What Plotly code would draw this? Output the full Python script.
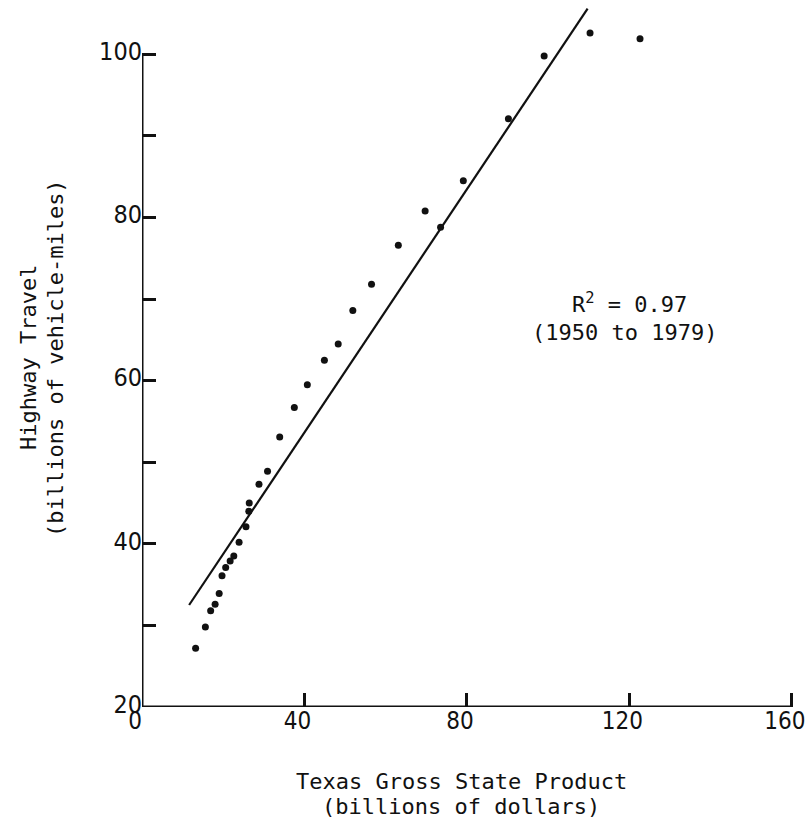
import plotly.graph_objects as go

# Texas Gross State Product (billions of dollars), 1950-1979
gsp = [13.2, 15.6, 16.9, 18.0, 19.0, 19.7, 20.6, 21.7, 22.6, 23.9,
       25.6, 26.3, 26.4, 28.8, 30.9, 33.9, 37.5, 40.7, 44.9, 48.3,
       51.9, 56.5, 63.1, 69.7, 73.5, 79.1, 90.2, 99.0, 110.3, 122.6]
# Highway travel (billions of vehicle-miles)
vmt = [27.2, 29.8, 31.8, 32.6, 33.9, 36.1, 37.1, 37.9, 38.5, 40.2,
       42.1, 44.0, 45.0, 47.3, 48.9, 53.1, 56.7, 59.5, 62.5, 64.5,
       68.6, 71.8, 76.6, 80.8, 78.8, 84.5, 92.1, 99.8, 102.6, 101.9]

# Regression line end points
fit_x = [11.6, 109.7]
fit_y = [32.5, 105.6]

x_tickvals = [0, 40, 80, 120, 160]
x_ticktext = ["0", "40", "80", "120", "160"]
y_tickvals = [20, 30, 40, 50, 60, 70, 80, 90, 100]
y_ticktext = ["20", " ", "40", " ", "60", " ", "80", " ", "100"]

x_title = ["Texas Gross State Product", "(billions of dollars)"]
y_title = ["Highway Travel", "(billions of vehicle-miles)"]
note = ["R<sup>2</sup> = 0.97", "(1950 to 1979)"]

W, H = 806, 826
ML, MT, MB = 142, 5, 119
PX_PER_X = 4.0625
PX_PER_Y = 8.159
X_RANGE = [0, 161]
MR = W - ML - round(X_RANGE[1] * PX_PER_X)
PW, PH = W - ML - MR, H - MT - MB
Y_RANGE = [20, 20 + PH / PX_PER_Y]

MONO = "DejaVu Sans Mono, Liberation Mono, monospace"
NUM = "Liberation Sans Narrow, DejaVu Sans Condensed, sans-serif"
INK = "#111111"

def px_x(p):
    return (p - ML) / PW

def px_y(p):
    return (H - MB - p) / PH

fig = go.Figure()
fig.add_trace(go.Scatter(x=fit_x, y=fit_y, mode="lines",
                         line=dict(color=INK, width=2.2),
                         showlegend=False, hoverinfo="skip"))
fig.add_trace(go.Scatter(x=gsp, y=vmt, mode="markers",
                         marker=dict(color=INK, size=7),
                         showlegend=False))

# axis lines (y axis stops at 100, x axis spans 0..160)
fig.add_shape(type="line", xref="x", yref="y", x0=0, x1=0, y0=Y_RANGE[0], y1=100,
              line=dict(color=INK, width=3))
fig.add_shape(type="line", xref="x", yref="y", x0=0, x1=160, y0=Y_RANGE[0], y1=Y_RANGE[0],
              line=dict(color=INK, width=3))

annotations = []
for txt, py in zip(x_title, [781, 806]):
    annotations.append(dict(text=txt, xref="paper", yref="paper",
                            x=px_x(461), y=px_y(py), xanchor="center", yanchor="middle",
                            showarrow=False, font=dict(family=MONO, size=22, color=INK)))
for txt, pxx in zip(y_title, [28, 55]):
    annotations.append(dict(text=txt, xref="paper", yref="paper", textangle=-90,
                            x=px_x(pxx), y=px_y(358), xanchor="center", yanchor="middle",
                            showarrow=False, font=dict(family=MONO, size=22, color=INK)))
for txt, pxx, py in zip(note, [629, 624], [303, 332]):
    annotations.append(dict(text=txt, xref="paper", yref="paper",
                            x=px_x(pxx), y=px_y(py), xanchor="center", yanchor="middle",
                            showarrow=False, font=dict(family=MONO, size=22, color=INK)))

fig.update_layout(
    width=W, height=H,
    margin=dict(l=ML, r=MR, t=MT, b=MB, pad=0),
    paper_bgcolor="white", plot_bgcolor="white",
    showlegend=False,
    annotations=annotations,
    xaxis=dict(range=X_RANGE, tickmode="array", tickvals=x_tickvals, ticktext=x_ticktext,
               ticks="inside", ticklen=14, tickwidth=2.5, tickcolor=INK,
               showline=False, showgrid=False, zeroline=False, automargin=False,
               ticklabelstandoff=-3, ticklabelshift=-7, ticklabeloverflow="allow",
               tickfont=dict(family=NUM, size=24, color=INK)),
    yaxis=dict(range=Y_RANGE, tickmode="array", tickvals=y_tickvals, ticktext=y_ticktext,
               ticks="inside", ticklen=14, tickwidth=2.5, tickcolor=INK,
               showline=False, showgrid=False, zeroline=False, automargin=False,
               ticklabelstandoff=-1, ticklabelshift=-3,
               tickfont=dict(family=NUM, size=25, color=INK)),
)

fig.write_html("out.html", config={"displayModeBar": False},
               post_script="document.body.style.margin='0';document.body.style.overflow='hidden';")
